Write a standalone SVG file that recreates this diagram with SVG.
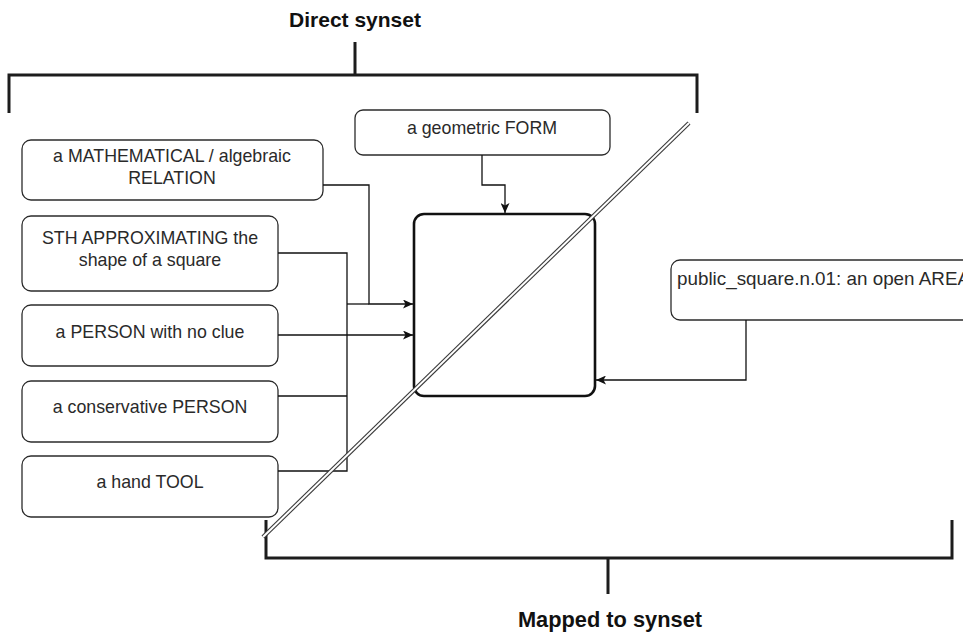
<svg xmlns="http://www.w3.org/2000/svg" width="963" height="634" viewBox="0 0 963 634">
  <style>
    .bg { fill: #ffffff; }
    .node rect { fill: #ffffff; stroke: #2b2b2b; stroke-width: 1.3; }
    .node text { font-family: "Liberation Sans", Arial, Helvetica, sans-serif; font-size: 17.8px; fill: #2a2a2a; text-anchor: middle; }
    .hub rect { fill: #ffffff; stroke: #111111; stroke-width: 2.6; }
    .edge { fill: none; stroke: #111111; stroke-width: 1.3; }
    .bracket { fill: none; stroke: #1c1c1c; stroke-width: 3; }
    .title { font-family: "Liberation Sans", Arial, Helvetica, sans-serif; font-weight: bold; fill: #111111; text-anchor: middle; }
  </style>
  <defs>
    <marker id="arrow" viewBox="0 0 10 9" refX="10" refY="4.5" markerWidth="10" markerHeight="9" markerUnits="userSpaceOnUse" orient="auto">
      <path d="M0,0 L10,4.5 L0,9 L2.5,4.5 z" fill="#111111"/>
    </marker>
  </defs>

  <rect class="bg" x="0" y="0" width="963" height="634"/>

  <!-- brackets and their captions -->
  <g id="bracket-direct">
    <path class="bracket" d="M9,113 V75 H697 V113 M355,42 V75"/>
    <text class="title" x="355" y="27" font-size="21">Direct synset</text>
  </g>
  <g id="bracket-mapped">
    <path class="bracket" d="M266,520 V558 H952 V520 M608,558 V594"/>
    <text class="title" x="610" y="627" font-size="21.8">Mapped to synset</text>
  </g>

  <!-- nodes -->
  <g id="n-form" class="node">
    <rect x="355" y="110" width="255" height="45" rx="8"/>
    <text x="482" y="134">a geometric FORM</text>
  </g>
  <g id="n-relation" class="node">
    <rect x="22" y="140" width="301" height="60" rx="9"/>
    <text x="172" y="162">a MATHEMATICAL / algebraic</text>
    <text x="172" y="184">RELATION</text>
  </g>
  <g id="n-approx" class="node">
    <rect x="22" y="216" width="256" height="75" rx="9"/>
    <text x="150" y="244">STH APPROXIMATING the</text>
    <text x="150" y="266">shape of a square</text>
  </g>
  <g id="n-noclue" class="node">
    <rect x="22" y="305" width="256" height="61" rx="9"/>
    <text x="150" y="338">a PERSON with no clue</text>
  </g>
  <g id="n-conservative" class="node">
    <rect x="22" y="381" width="256" height="61" rx="9"/>
    <text x="150" y="413">a conservative PERSON</text>
  </g>
  <g id="n-tool" class="node">
    <rect x="22" y="456" width="256" height="61" rx="9"/>
    <text x="150" y="488">a hand TOOL</text>
  </g>
  <g id="n-public" class="node">
    <rect x="671" y="260" width="340" height="60" rx="9"/>
    <text x="677" y="285" style="text-anchor:start" textLength="293" lengthAdjust="spacingAndGlyphs">public_square.n.01: an open AREA</text>
  </g>
  <g id="n-square" class="hub">
    <rect x="414" y="214" width="181" height="182" rx="10"/>
  </g>

  <!-- connectors -->
  <g id="connectors">
    <path class="edge" d="M482,155 V185 H505 V213" marker-end="url(#arrow)"/>
    <path class="edge" d="M323,185 H369 V304 H413" marker-end="url(#arrow)"/>
    <path class="edge" d="M278,253 H347 V471 H278"/>
    <path class="edge" d="M278,396 H347"/>
    <path class="edge" d="M347,304 H369"/>
    <path class="edge" d="M278,335 H413" marker-end="url(#arrow)"/>
    <path class="edge" d="M746,320 V380 H596" marker-end="url(#arrow)"/>
  </g>

  <!-- double diagonal divider -->
  <g id="divider">
    <line x1="263" y1="537" x2="689" y2="123" stroke="#3a3a3a" stroke-width="4.2"/>
    <line x1="263" y1="537" x2="689" y2="123" stroke="#ffffff" stroke-width="2"/>
  </g>
</svg>
